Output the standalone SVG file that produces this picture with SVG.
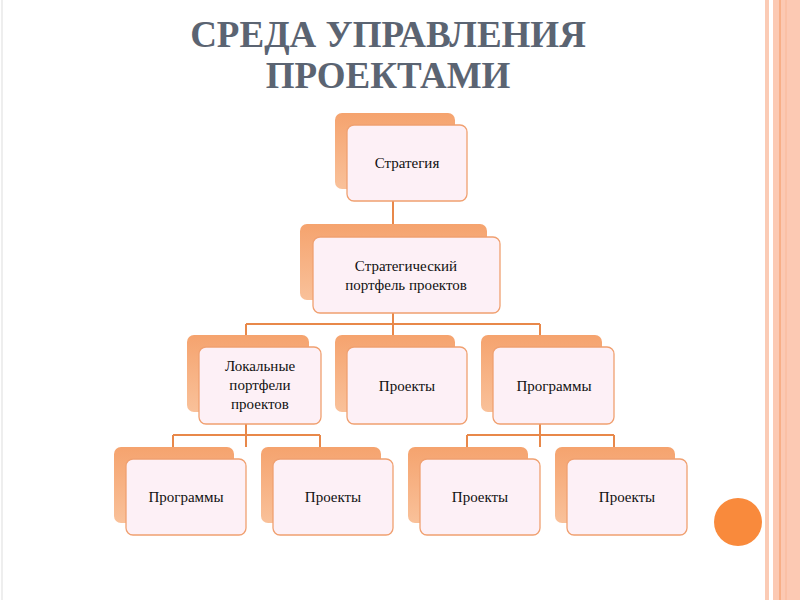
<svg xmlns="http://www.w3.org/2000/svg" width="800" height="600" viewBox="0 0 800 600">
<defs>
<linearGradient id="bk" x1="0" y1="0" x2="0" y2="1"><stop offset="0" stop-color="#f5a36e"/><stop offset="1" stop-color="#f9c19a"/></linearGradient>
</defs>
<style>
.b{fill:url(#bk)}
.f{fill:#fdf0f6;stroke:#f0a070;stroke-width:1.3}
.t{font-family:"Liberation Serif",serif;font-size:15px;fill:#111;text-anchor:middle}
.c{stroke:#e8884a;stroke-width:2;fill:none}
.h{font-family:"Liberation Serif",serif;font-weight:bold;font-size:37px;fill:#5b6472;text-anchor:middle}
</style>
<rect width="800" height="600" fill="#fff"/>
<rect x="765" y="0" width="4" height="600" fill="#fbcbb5"/>
<rect x="773" y="0" width="27" height="600" fill="#fcc9b3"/>
<line x1="780" y1="0" x2="780" y2="600" stroke="#f4955c" stroke-width="1"/>
<line x1="786" y1="0" x2="786" y2="600" stroke="#f9b898" stroke-width="1"/>
<line x1="2" y1="0" x2="2" y2="600" stroke="#ddd" stroke-width="1"/>
<circle cx="738" cy="522" r="24" fill="#f98a3c"/>
<text class="h" x="388" y="47">СРЕДА УПРАВЛЕНИЯ</text>
<text class="h" x="388" y="88">ПРОЕКТАМИ</text>
<g id="connectors">
<path class="c" d="M393 201V224M393 313V335M246 324H540M246 324V335M540 324V335M246 424V447M173 435H320M173 435V447M320 435V447M540 424V447M467 435H614M467 435V447M614 435V447"/>
</g>
<g id="n1"><rect class="b" x="335" y="113" width="120" height="76" rx="7"/><rect class="f" x="347" y="125" width="120" height="76" rx="7"/><text class="t" x="407" y="168">Стратегия</text></g>
<g id="n2"><rect class="b" x="300" y="224" width="187" height="76" rx="7"/><rect class="f" x="313" y="237" width="187" height="76" rx="7"/><text class="t" x="406" y="271">Стратегический</text><text class="t" x="406" y="290">портфель проектов</text></g>
<g id="n3"><rect class="b" x="187" y="335" width="122" height="77" rx="7"/><rect class="f" x="199" y="347" width="122" height="77" rx="7"/><text class="t" x="260" y="371">Локальные</text><text class="t" x="260" y="390">портфели</text><text class="t" x="260" y="409">проектов</text></g>
<g id="n4"><rect class="b" x="335" y="335" width="120" height="77" rx="7"/><rect class="f" x="347" y="347" width="120" height="77" rx="7"/><text class="t" x="407" y="391">Проекты</text></g>
<g id="n5"><rect class="b" x="481" y="335" width="121" height="77" rx="7"/><rect class="f" x="493" y="347" width="121" height="77" rx="7"/><text class="t" x="554" y="391">Программы</text></g>
<g id="n6"><rect class="b" x="114" y="447" width="120" height="76" rx="7"/><rect class="f" x="126" y="459" width="120" height="76" rx="7"/><text class="t" x="186" y="502">Программы</text></g>
<g id="n7"><rect class="b" x="261" y="447" width="120" height="76" rx="7"/><rect class="f" x="273" y="459" width="120" height="76" rx="7"/><text class="t" x="333" y="502">Проекты</text></g>
<g id="n8"><rect class="b" x="408" y="447" width="120" height="76" rx="7"/><rect class="f" x="420" y="459" width="120" height="76" rx="7"/><text class="t" x="480" y="502">Проекты</text></g>
<g id="n9"><rect class="b" x="555" y="447" width="120" height="76" rx="7"/><rect class="f" x="567" y="459" width="120" height="76" rx="7"/><text class="t" x="627" y="502">Проекты</text></g>
</svg>
